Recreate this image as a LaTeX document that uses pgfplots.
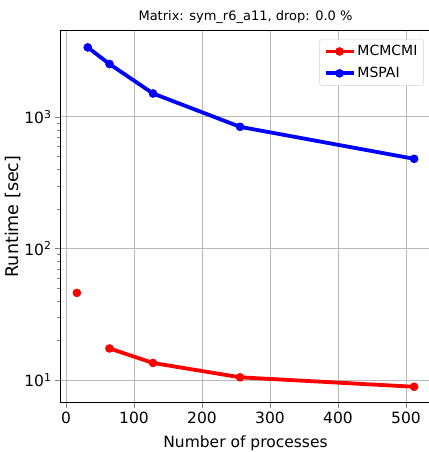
\documentclass[border=0pt]{standalone}
\usepackage{fontspec}
\setmainfont{DejaVu Sans}
\usepackage{pgfplots}
\pgfplotsset{compat=1.18}

\begin{document}
\begin{tikzpicture}
\path[use as bounding box] (-60pt,-49pt) rectangle (368pt,403pt);
\begin{axis}[
    at={(0pt,0pt)}, anchor=south west,
    scale only axis,
    width=371pt, height=373pt,
    ymode=log,
    xmin=-8.8, xmax=536.8,
    ymin=6.7, ymax=4570,
    xtick={0,100,200,300,400,500},
    ytick={10,100,1000},
    yticklabels={10\textsuperscript{1},10\textsuperscript{2},10\textsuperscript{3}},
    /pgf/number format/assume math mode=true,
    tick align=outside,
    tick pos=left,
    major tick length=5pt,
    minor tick length=3pt,
    grid=major,
    major grid style={gray!55, line width=0.8pt},
    axis line style={line width=1pt},
    ticklabel style={font=\fontsize{15.5}{18}\selectfont},
    title={Matrix: sym\_r6\_a11, drop: 0.0 \%},
    title style={font=\fontsize{13}{15}\selectfont, yshift=-3pt},
    xlabel={Number of processes},
    ylabel={Runtime [sec]},
    xlabel style={font=\fontsize{15.5}{18}\selectfont, yshift=-6pt},
    ylabel style={font=\fontsize{17.5}{20}\selectfont, yshift=-3pt},
    legend style={at={(rel axis cs:0.98,0.975)}, anchor=north east,
        font=\fontsize{14}{16}\selectfont, draw=gray!35, rounded corners=2pt,
        row sep=6pt, inner sep=4pt},
    legend cell align=left,
    legend image code/.code={%
        \draw[mark repeat=2,mark phase=2,#1]
        plot coordinates {(0pt,0pt) (14pt,0pt) (28pt,0pt)};},
    unbounded coords=jump,
]
\addplot[red, line width=3.8pt, mark=*, mark size=3.8pt, mark options={line width=1pt}] coordinates {
    (16,46) (32,nan) (64,17.4) (128,13.5) (256,10.5) (512,8.9)
};
\addlegendentry{MCMCMI}
\addplot[blue, line width=3.8pt, mark=*, mark size=3.8pt, mark options={line width=1pt}] coordinates {
    (32,3370) (64,2520) (128,1505) (256,840) (512,480)
};
\addlegendentry{MSPAI}
\end{axis}
\end{tikzpicture}
\end{document}
